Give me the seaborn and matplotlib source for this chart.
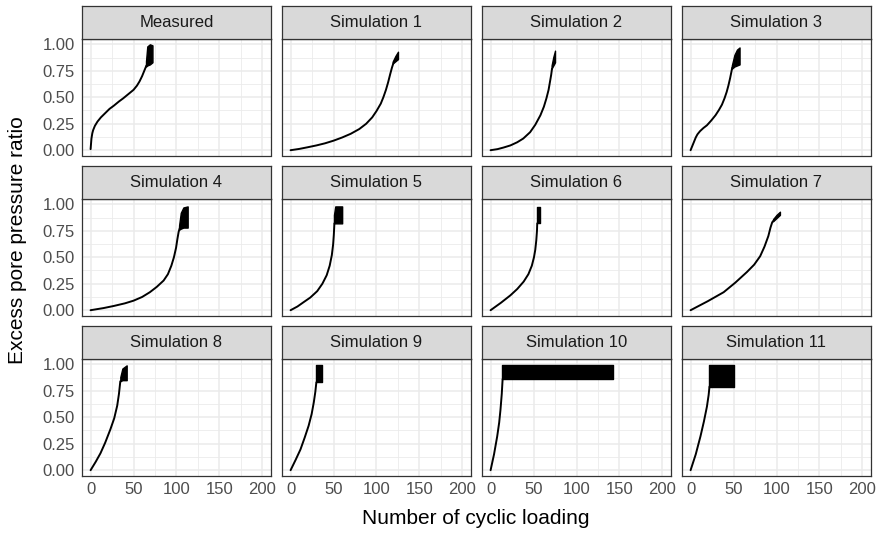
import matplotlib
matplotlib.use("Agg")
import matplotlib.pyplot as plt
import seaborn as sns
import numpy as np

sns.set_theme(style="white")
plt.rcParams['font.family'] = ['Liberation Sans', 'DejaVu Sans']

panel_titles = ["Measured", "Simulation 1", "Simulation 2", "Simulation 3",
                "Simulation 4", "Simulation 5", "Simulation 6", "Simulation 7",
                "Simulation 8", "Simulation 9", "Simulation 10", "Simulation 11"]

# rising part of each curve (cycles, ratio)
ramp_x = [
    [0, 0.5, 1, 2, 3, 5, 8, 12, 17, 22, 27, 33, 38, 44, 50, 54, 57, 60, 62, 64, 65],
    [0, 10, 20, 30, 40, 50, 60, 70, 80, 88, 95, 100, 105, 108, 111, 113.5, 116, 118, 120],
    [0, 8, 15, 23, 31, 38, 46, 52, 58, 62, 65, 67.5, 69, 70.5, 71.5],
    [0, 2, 4, 6, 8, 11, 15, 19, 24, 29, 33, 36.5, 39.5, 42, 44, 46, 47.5, 48.5],
    [0, 15, 27, 40, 50, 60, 69, 77, 85, 90, 94, 97, 99.5, 101, 102.5, 104],
    [0, 8, 15, 23, 31, 37, 42, 45.5, 48, 49.5, 50.3, 51],
    [0, 12, 23, 31, 38.5, 44, 48, 50.5, 52, 53.2, 54, 54.3],
    [0, 20, 38.5, 52, 65.5, 74, 81, 86, 90.5, 93, 95, 98],
    [0, 6, 11.5, 17, 23, 27.5, 31, 33, 34.6],
    [0, 6, 11.5, 16.5, 21, 24.5, 27, 28.8, 30],
    [0, 4, 7.7, 10, 11.5, 13, 14],
    [0, 6, 11.5, 15.5, 19, 21, 22],
]
ramp_y = [
    [0.01, 0.06, 0.11, 0.16, 0.19, 0.23, 0.27, 0.31, 0.35, 0.39, 0.42, 0.46, 0.49, 0.53, 0.57, 0.61, 0.65, 0.70, 0.74, 0.78, 0.80],
    [0.0, 0.012, 0.028, 0.045, 0.065, 0.09, 0.12, 0.155, 0.20, 0.25, 0.31, 0.37, 0.44, 0.50, 0.57, 0.64, 0.72, 0.78, 0.83],
    [0.0, 0.01, 0.025, 0.045, 0.075, 0.11, 0.17, 0.24, 0.33, 0.41, 0.49, 0.57, 0.64, 0.71, 0.77],
    [0.0, 0.04, 0.08, 0.12, 0.15, 0.18, 0.21, 0.235, 0.28, 0.33, 0.38, 0.43, 0.49, 0.55, 0.61, 0.68, 0.74, 0.78],
    [0.0, 0.02, 0.04, 0.065, 0.09, 0.125, 0.17, 0.22, 0.28, 0.34, 0.42, 0.50, 0.59, 0.67, 0.74, 0.78],
    [0.0, 0.035, 0.075, 0.12, 0.18, 0.25, 0.33, 0.42, 0.52, 0.62, 0.71, 0.82],
    [0.0, 0.07, 0.14, 0.20, 0.27, 0.34, 0.42, 0.50, 0.57, 0.66, 0.75, 0.82],
    [0.0, 0.085, 0.17, 0.26, 0.36, 0.43, 0.51, 0.60, 0.70, 0.78, 0.83, 0.86],
    [0.0, 0.08, 0.16, 0.26, 0.385, 0.49, 0.61, 0.72, 0.84],
    [0.0, 0.10, 0.196, 0.31, 0.42, 0.53, 0.64, 0.74, 0.83],
    [0.0, 0.15, 0.32, 0.45, 0.57, 0.72, 0.86],
    [0.0, 0.15, 0.32, 0.46, 0.60, 0.71, 0.79],
]
# oscillating (liquefied) part: envelope of the cyclic response
band_x = [
    [64.5, 66, 69, 72],
    [119, 122, 125],
    [71, 73, 75],
    [48, 51, 54, 57],
    [103, 105, 108, 113],
    [50.5, 52, 60],
    [54, 58],
    [96, 100, 104],
    [34.6, 37, 42],
    [29.5, 36.4],
    [13.5, 142],
    [21, 51],
]
band_lo = [
    [0.79, 0.80, 0.81, 0.83],
    [0.82, 0.84, 0.86],
    [0.77, 0.80, 0.83],
    [0.77, 0.79, 0.80, 0.81],
    [0.76, 0.77, 0.78, 0.78],
    [0.82, 0.82, 0.82],
    [0.82, 0.82],
    [0.84, 0.87, 0.90],
    [0.84, 0.85, 0.85],
    [0.83, 0.83],
    [0.86, 0.86],
    [0.79, 0.79],
]
band_hi = [
    [0.84, 0.98, 1.0, 0.99],
    [0.84, 0.89, 0.93],
    [0.80, 0.88, 0.94],
    [0.80, 0.90, 0.95, 0.97],
    [0.80, 0.92, 0.97, 0.98],
    [0.90, 0.98, 0.98],
    [0.97, 0.97],
    [0.86, 0.90, 0.93],
    [0.88, 0.96, 0.99],
    [0.99, 0.99],
    [0.99, 0.99],
    [0.99, 0.99],
]

x_ticks = [0, 50, 100, 150, 200]
y_ticks = [0.0, 0.25, 0.5, 0.75, 1.0]
y_tick_labels = ["0.00", "0.25", "0.50", "0.75", "1.00"]

W, H = 881, 534
fig = plt.figure(figsize=(W / 100, H / 100), dpi=100)

col_left = [82, 282, 482, 682]
panel_w = 189
row_strip_top = [6, 166, 326]
strip_h = 33
panel_h = 116.5

grey20 = "#333333"
grey30 = "#4D4D4D"
grid_c = "#EBEBEB"

for i, title in enumerate(panel_titles):
    r, c = divmod(i, 4)
    left = col_left[c]
    ptop = row_strip_top[r] + strip_h
    ax = fig.add_axes([left / W, 1 - (ptop + panel_h) / H, panel_w / W, panel_h / H])
    ax.set_xlim(-10, 210)
    ax.set_ylim(-0.05, 1.05)
    ax.set_facecolor("white")
    for xv in [25, 75, 125, 175]:
        ax.axvline(xv, color=grid_c, lw=0.6, zorder=0)
    for yv in [0.125, 0.375, 0.625, 0.875]:
        ax.axhline(yv, color=grid_c, lw=0.6, zorder=0)
    for xv in x_ticks:
        ax.axvline(xv, color=grid_c, lw=1.1, zorder=0)
    for yv in y_ticks:
        ax.axhline(yv, color=grid_c, lw=1.1, zorder=0)

    sns.lineplot(x=ramp_x[i], y=ramp_y[i], ax=ax, color="black", lw=1.4,
                 sort=False, estimator=None)
    ax.fill_between(band_x[i], band_lo[i], band_hi[i], color="black", lw=1.0,
                    edgecolor="black", zorder=3)

    ax.set_xticks(x_ticks)
    ax.set_yticks(y_ticks)
    ax.tick_params(axis="both", length=3, width=0.8, color=grey20, direction="out",
                   labelsize=12, labelcolor=grey30, pad=2)
    if c == 0:
        ax.set_yticklabels(y_tick_labels)
    else:
        ax.tick_params(axis="y", length=0, labelleft=False)
    if r == 2:
        ax.set_xticklabels([str(v) for v in x_ticks])
    else:
        ax.tick_params(axis="x", length=0, labelbottom=False)
    ax.set_xlabel("")
    ax.set_ylabel("")
    for s in ax.spines.values():
        s.set_color(grey20)
        s.set_linewidth(0.9)

    sax = fig.add_axes([left / W, 1 - (row_strip_top[r] + strip_h) / H, panel_w / W, strip_h / H])
    sax.set_facecolor("#D9D9D9")
    sax.set_xticks([])
    sax.set_yticks([])
    for s in sax.spines.values():
        s.set_color(grey20)
        s.set_linewidth(0.9)
    sax.text(0.5, 0.5, title, ha="center", va="center", fontsize=12,
             color="#1A1A1A", transform=sax.transAxes)

fig.text(476 / W, 1 - 519 / H, "Number of cyclic loading", ha="center", va="center",
         fontsize=15, color="black")
fig.text(18 / W, 1 - 240 / H, "Excess pore pressure ratio", ha="center", va="center",
         rotation=90, fontsize=15, color="black")

fig.savefig("out.png", dpi=100)
